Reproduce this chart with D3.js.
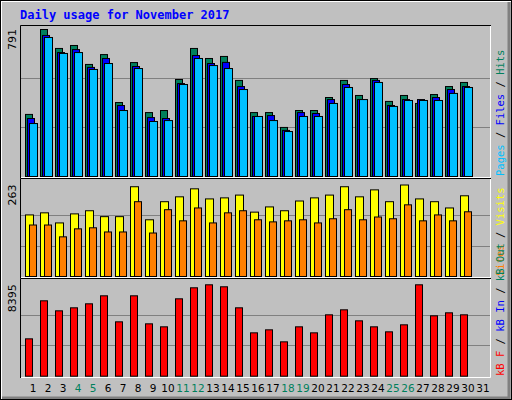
<!DOCTYPE html>
<html><head><meta charset="utf-8">
<script src="https://cdn.jsdelivr.net/npm/d3@7"></script>
<style>body{margin:0;background:#fff}</style>
</head><body><svg id="chart" width="512" height="400"></svg>
<script>
var days = d3.range(1, 32);
var weekends = [4, 5, 11, 12, 18, 19, 25, 26];
var hits = [334,791,689,705,603,656,398,613,344,355,522,689,635,646,517,344,344,264,355,355,425,517,436,527,404,436,393,441,484,506];
var files = [312,759,667,683,587,635,382,592,317,312,500,651,608,614,484,323,328,248,344,339,414,495,414,517,382,414,414,425,468,484];
var pages = [285,748,662,667,576,608,355,581,296,301,495,635,597,581,468,323,301,242,323,323,393,479,414,506,377,409,409,409,447,479];
var visits = [177,183,154,180,189,172,172,258,163,215,229,252,223,226,234,185,200,189,217,226,234,258,229,249,215,263,223,215,197,232];
var sites = [148,148,114,137,140,128,128,215,125,192,160,197,154,183,189,163,157,160,163,154,166,192,163,171,166,206,160,177,160,186];
var kbytes = [3432,6925,6005,6281,6649,7384,4994,7384,4810,4535,7108,8120,8395,8212,6281,3983,4259,3156,4535,3983,5638,6097,5086,4535,4075,4719,8395,5546,5822,5638];

var svg = d3.select('#chart');
var mono = 'DejaVu Sans Mono, monospace';

// background with 3d edge
svg.append('rect').attr('x', 0).attr('y', 0).attr('width', 512).attr('height', 400).attr('fill', '#c0c0c0');
svg.append('path').attr('d', 'M1 399 V1 H511').attr('stroke', '#fff').attr('stroke-width', 2).attr('fill', 'none');
svg.append('path').attr('d', 'M2 398 H509 V2').attr('stroke', '#808080').attr('stroke-width', 3).attr('fill', 'none');
svg.append('rect').attr('x', 0.5).attr('y', 0.5).attr('width', 511).attr('height', 399).attr('fill', 'none').attr('stroke', '#000');

svg.append('text').attr('x', 20).attr('y', 19).text('Daily usage for November 2017')
  .attr('fill', '#0000ff').attr('font-family', mono).attr('font-weight', 'bold').attr('font-size', 12);

var x = d3.scaleLinear().domain([1, 31]).range([25, 475]);

var panels = [
  {top: 25, bottom: 178, y0: 176, y1: 29, max: 791, series: [
    {data: hits, color: '#00805c', dx: 0, w: 7},
    {data: files, color: '#0000ff', dx: 2, w: 7},
    {data: pages, color: '#00c0ff', dx: 4, w: 8}],
    labels: [['Pages', '#00c0ff'], [' / ', '#000'], ['Files', '#0000ff'], [' / ', '#000'], ['Hits', '#00805c']]},
  {top: 178, bottom: 278, y0: 276, y1: 184.5, max: 263, series: [
    {data: visits, color: '#ffff00', dx: 0, w: 8},
    {data: sites, color: '#ff8000', dx: 4, w: 7}],
    labels: [['Sites', '#ff8000'], [' / ', '#000'], ['Visits', '#ffff00']]},
  {top: 278, bottom: 378, y0: 375.7, y1: 284.3, max: 8395, series: [
    {data: kbytes, color: '#ff0000', dx: 0, w: 7}],
    labels: [['kB F', '#ff0000'], [' / ', '#000'], ['kB In', '#0000ff'], [' / ', '#000'], ['kB Out', '#00805c']]}
];

panels.forEach(function(p) {
  var y = d3.scaleLinear().domain([0, p.max]).range([p.y0, p.y1]);
  // frame
  svg.append('path').attr('d', 'M20.5 ' + (p.bottom) + ' V' + (p.top + 0.5) + ' H491')
    .attr('stroke', '#000').attr('fill', 'none');
  svg.append('path').attr('d', 'M21 ' + (p.bottom - 0.5) + ' H490.5 V' + (p.top + 1))
    .attr('stroke', '#fff').attr('fill', 'none');
  [1 / 3, 2 / 3].forEach(function(f) {
    svg.append('line').attr('x1', 21).attr('x2', 490).attr('y1', Math.round(y(p.max * f)) + 0.5).attr('y2', Math.round(y(p.max * f)) + 0.5)
      .attr('stroke', '#808080');
  });
  p.series.forEach(function(s) {
    svg.append('g').selectAll('rect').data(s.data).join('rect')
      .attr('x', function(d, i) { return x(i + 1) + s.dx + 0.5; })
      .attr('y', function(d) { return y(d) + 0.5; })
      .attr('width', s.w)
      .attr('height', function(d) { return p.y0 - y(d); })
      .attr('fill', s.color).attr('stroke', '#000');
  });
  svg.append('text').attr('transform', 'translate(16,' + (p.y1) + ') rotate(-90)')
    .attr('text-anchor', 'end').attr('font-family', 'DejaVu Sans, sans-serif').attr('font-size', 11)
    .text(p.max);
  var t = svg.append('text').attr('transform', 'translate(504,' + (p.bottom - 2) + ') rotate(-90)')
    .attr('font-family', mono).attr('font-size', 10.5);
  p.labels.forEach(function(l) { t.append('tspan').attr('fill', l[1]).text(l[0]); });
});

svg.append('g').selectAll('text').data(days).join('text')
  .attr('x', function(d) { return x(d) + 8; })
  .attr('y', 392)
  .attr('text-anchor', 'middle')
  .attr('font-family', 'DejaVu Sans, sans-serif').attr('font-size', 10.5)
  .attr('fill', function(d) { return weekends.indexOf(d) >= 0 ? '#00805c' : '#000'; })
  .text(function(d) { return d; });
</script></body></html>
